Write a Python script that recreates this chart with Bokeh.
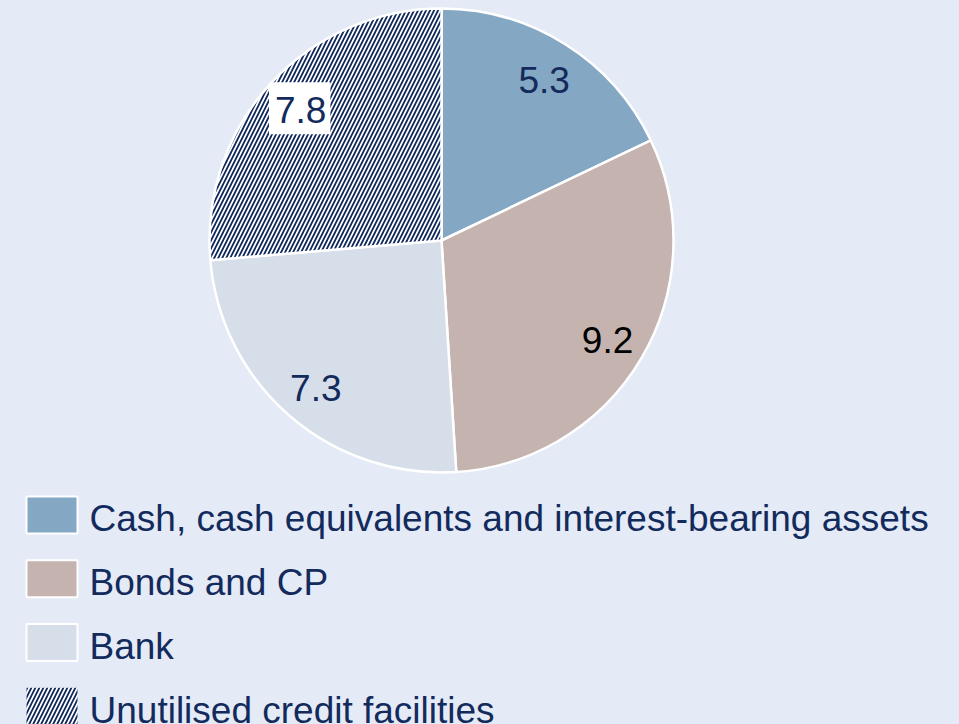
import numpy as np
from bokeh.plotting import figure
from bokeh.models import Range1d, ColumnDataSource
from bokeh.core.properties import value
from bokeh.embed import file_html
from bokeh.resources import INLINE

# ---- data ----
categories = ["Cash, cash equivalents and interest-bearing assets",
              "Bonds and CP", "Bank", "Unutilised credit facilities"]
values = [5.3, 9.2, 7.3, 7.8]
labels = ["5.3", "9.2", "7.3", "7.8"]

# ---- styles ----
fill_colors = ["#84A7C3", "#C4B3AF", "#D6DEE9", "#FFFFFF"]
hatches = [" ", " ", " ", "/"]
square_lines = ["white", "white", "white", None]
label_colors = ["#132A5C", "#000000", "#132A5C", "#132A5C"]
label_boxed = [False, False, False, True]
BG = "#E4EAF6"
NAVY = "#132A5C"
FONT = "Liberation Sans"
FS = "37px"
HSCALE, HWEIGHT = 8, 1.8

W, H = 959, 724
p = figure(width=W, height=H, x_range=Range1d(0, W), y_range=Range1d(0, H),
           output_backend="svg", toolbar_location=None, min_border=0)
p.axis.visible = False
p.grid.visible = False
p.outline_line_color = None
p.background_fill_color = BG
p.border_fill_color = BG

# pie geometry (data y = H - screen y)
cx, cy, R = 441, H - 240, 232
total = sum(values)
cum = np.cumsum([0] + values)
start = np.pi / 2 - 2 * np.pi * cum[:-1] / total
end = np.pi / 2 - 2 * np.pi * cum[1:] / total
mid = (start + end) / 2

src = ColumnDataSource(dict(start=start, end=end, fill=fill_colors, hatch=hatches,
                            cat=categories))
p.wedge(x=cx, y=cy, radius=R, start_angle="start", end_angle="end", direction="clock",
        fill_color="fill", hatch_pattern="hatch", hatch_color=NAVY, hatch_scale=HSCALE,
        hatch_weight=HWEIGHT, line_color="white", line_width=2.5, source=src)

# data labels
lr = 0.83 * R
lx = cx + lr * np.cos(mid)
ly = cy + lr * np.sin(mid) - 2
plain = [i for i in range(len(values)) if not label_boxed[i]]
boxed = [i for i in range(len(values)) if label_boxed[i]]
p.text(x=[lx[i] for i in plain], y=[ly[i] for i in plain],
       text=[labels[i] for i in plain], text_color=[label_colors[i] for i in plain],
       text_font=value(FONT), text_font_size=FS, text_align="center",
       text_baseline="middle")
p.text(x=[lx[i] for i in boxed], y=[ly[i] + 4 for i in boxed],
       text=[labels[i] for i in boxed], text_color=[label_colors[i] for i in boxed],
       text_font=value(FONT), text_font_size=FS, text_align="center",
       text_baseline="middle", background_fill_color="white", padding=(6, 4, 15, 11))

# legend (manual)
n = len(categories)
step = 63.75
sq_y = [H - (514.5 + step * i) for i in range(n)]
tx_y = [H - (518.3 + step * i) for i in range(n)]
p.rect(x=[51.5] * n, y=sq_y, width=51, height=37, fill_color=fill_colors,
       hatch_pattern=hatches, hatch_color=NAVY, hatch_scale=HSCALE, hatch_weight=HWEIGHT,
       line_color=square_lines, line_width=2)
p.text(x=[89] * n, y=tx_y, text=categories, text_color=NAVY, text_font=value(FONT),
       text_font_size=FS, text_align="left", text_baseline="middle")

html = file_html(p, INLINE)
html = html.replace("</head>",
                    "<style>html,body{margin:0;padding:0;overflow:hidden;background:%s;}</style></head>" % BG, 1)
open("out.html", "w").write(html)
